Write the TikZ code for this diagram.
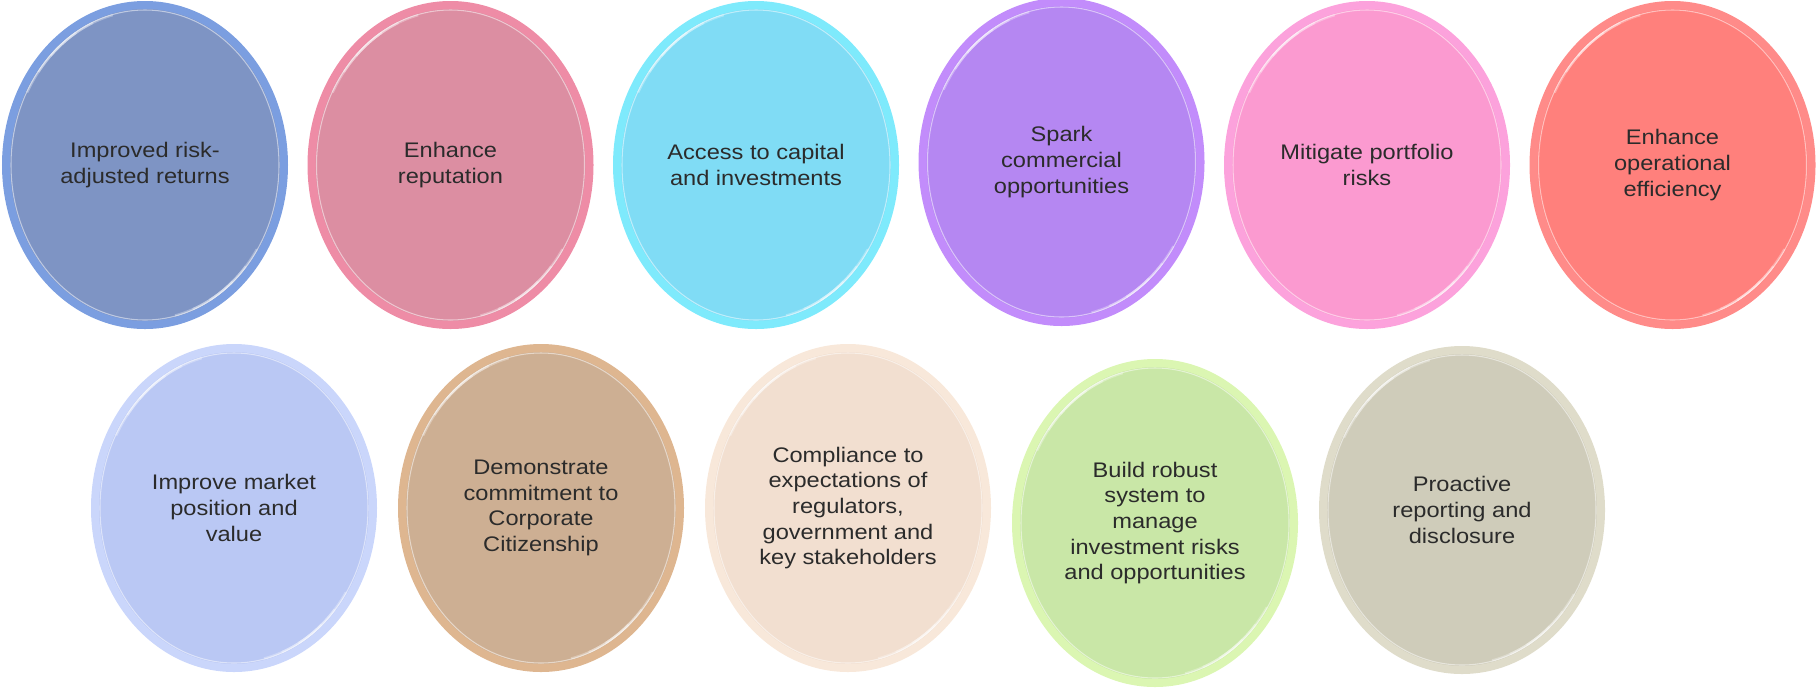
\documentclass[tikz,border=0pt]{standalone}
\usepackage{fontspec}
\setmainfont{Liberation Sans}
\newfontfamily\bubblefont[FakeStretch=1.12]{Liberation Sans}
\usetikzlibrary{positioning,shapes.geometric}
\usepackage{xcolor}

\definecolor{txtgray}{HTML}{2B2B2B}
% fill / rim pairs
\definecolor{steelfill}{HTML}{7E94C4}
\definecolor{steelrim}{HTML}{7B9EE0}
\definecolor{rosefill}{HTML}{DC8EA2}
\definecolor{roserim}{HTML}{EE8CA6}
\definecolor{cyanfill}{HTML}{80DCF5}
\definecolor{cyanrim}{HTML}{7EEAFC}
\definecolor{violetfill}{HTML}{B587F2}
\definecolor{violetrim}{HTML}{C28CFB}
\definecolor{pinkfill}{HTML}{FB9AD0}
\definecolor{pinkrim}{HTML}{FCA2DC}
\definecolor{salmonfill}{HTML}{FF807C}
\definecolor{salmonrim}{HTML}{FF8B89}
\definecolor{lavfill}{HTML}{BAC8F4}
\definecolor{lavrim}{HTML}{CAD6FB}
\definecolor{tanfill}{HTML}{CDAF93}
\definecolor{tanrim}{HTML}{DEB690}
\definecolor{peachfill}{HTML}{F2DFD0}
\definecolor{peachrim}{HTML}{F8E8DA}
\definecolor{limefill}{HTML}{C9E7A7}
\definecolor{limerim}{HTML}{DBF6B2}
\definecolor{greigefill}{HTML}{CFCCBA}
\definecolor{greigerim}{HTML}{DFDCCA}

\begin{document}
\begin{tikzpicture}[
    bubble/.style 2 args={ellipse, fill=#1, draw=#2, line width=0.16cm,
        minimum width=5.56cm, minimum height=6.4cm, inner sep=0pt, outer sep=0pt,
        align=center, text=txtgray, font=\bubblefont\fontsize{12pt}{14.6pt}\selectfont,
        path picture={
            \draw[white, opacity=.5, line width=.6pt] (path picture bounding box.center)
                ellipse [x radius=2.68cm, y radius=3.10cm];
            % soft glints on the inner rim
            \foreach \a/\h in {128/24, 128/15, 128/7, -55/22, -55/14, -55/6}
                \draw[white, opacity=.3, line width=1.4pt] (path picture bounding box.center)
                    ++(\a+\h:2.67cm and 3.09cm)
                    arc[start angle=\a+\h, end angle=\a-\h, x radius=2.67cm, y radius=3.09cm];
        }},
    node distance=0.55cm
]
\useasboundingbox (0,0) rectangle (36.32,-13.76);

% Top row
\node[bubble={steelfill}{steelrim}] (returns) at (2.9,-3.3) {Improved risk-\\adjusted returns};
\node[bubble={rosefill}{roserim}, right=of returns] (reputation) {Enhance\\reputation};
\node[bubble={cyanfill}{cyanrim}, right=of reputation] (capital) {Access to capital\\and investments};
\node[bubble={violetfill}{violetrim}, right=of capital, yshift=0.06cm] (spark) {Spark\\commercial\\opportunities};
\node[bubble={pinkfill}{pinkrim}, right=of spark, yshift=-0.06cm] (mitigate) {Mitigate portfolio\\risks};
\node[bubble={salmonfill}{salmonrim}, right=of mitigate] (efficiency) {Enhance\\operational\\efficiency};

% Bottom row
\node[bubble={lavfill}{lavrim}] (market) at (4.68,-10.16) {Improve market\\position and\\value};
\node[bubble={tanfill}{tanrim}, right=0.58cm of market] (citizen) {Demonstrate\\commitment to\\Corporate\\Citizenship};
\node[bubble={peachfill}{peachrim}, right=0.58cm of citizen] (compliance) {Compliance to\\expectations of\\regulators,\\government and\\key stakeholders};
\node[bubble={limefill}{limerim}, right=0.58cm of compliance, yshift=-0.3cm] (robust) {Build robust\\system to\\manage\\investment risks\\and opportunities};
\node[bubble={greigefill}{greigerim}, right=0.58cm of robust, yshift=0.26cm] (disclosure) {Proactive\\reporting and\\disclosure};

\end{tikzpicture}
\end{document}
